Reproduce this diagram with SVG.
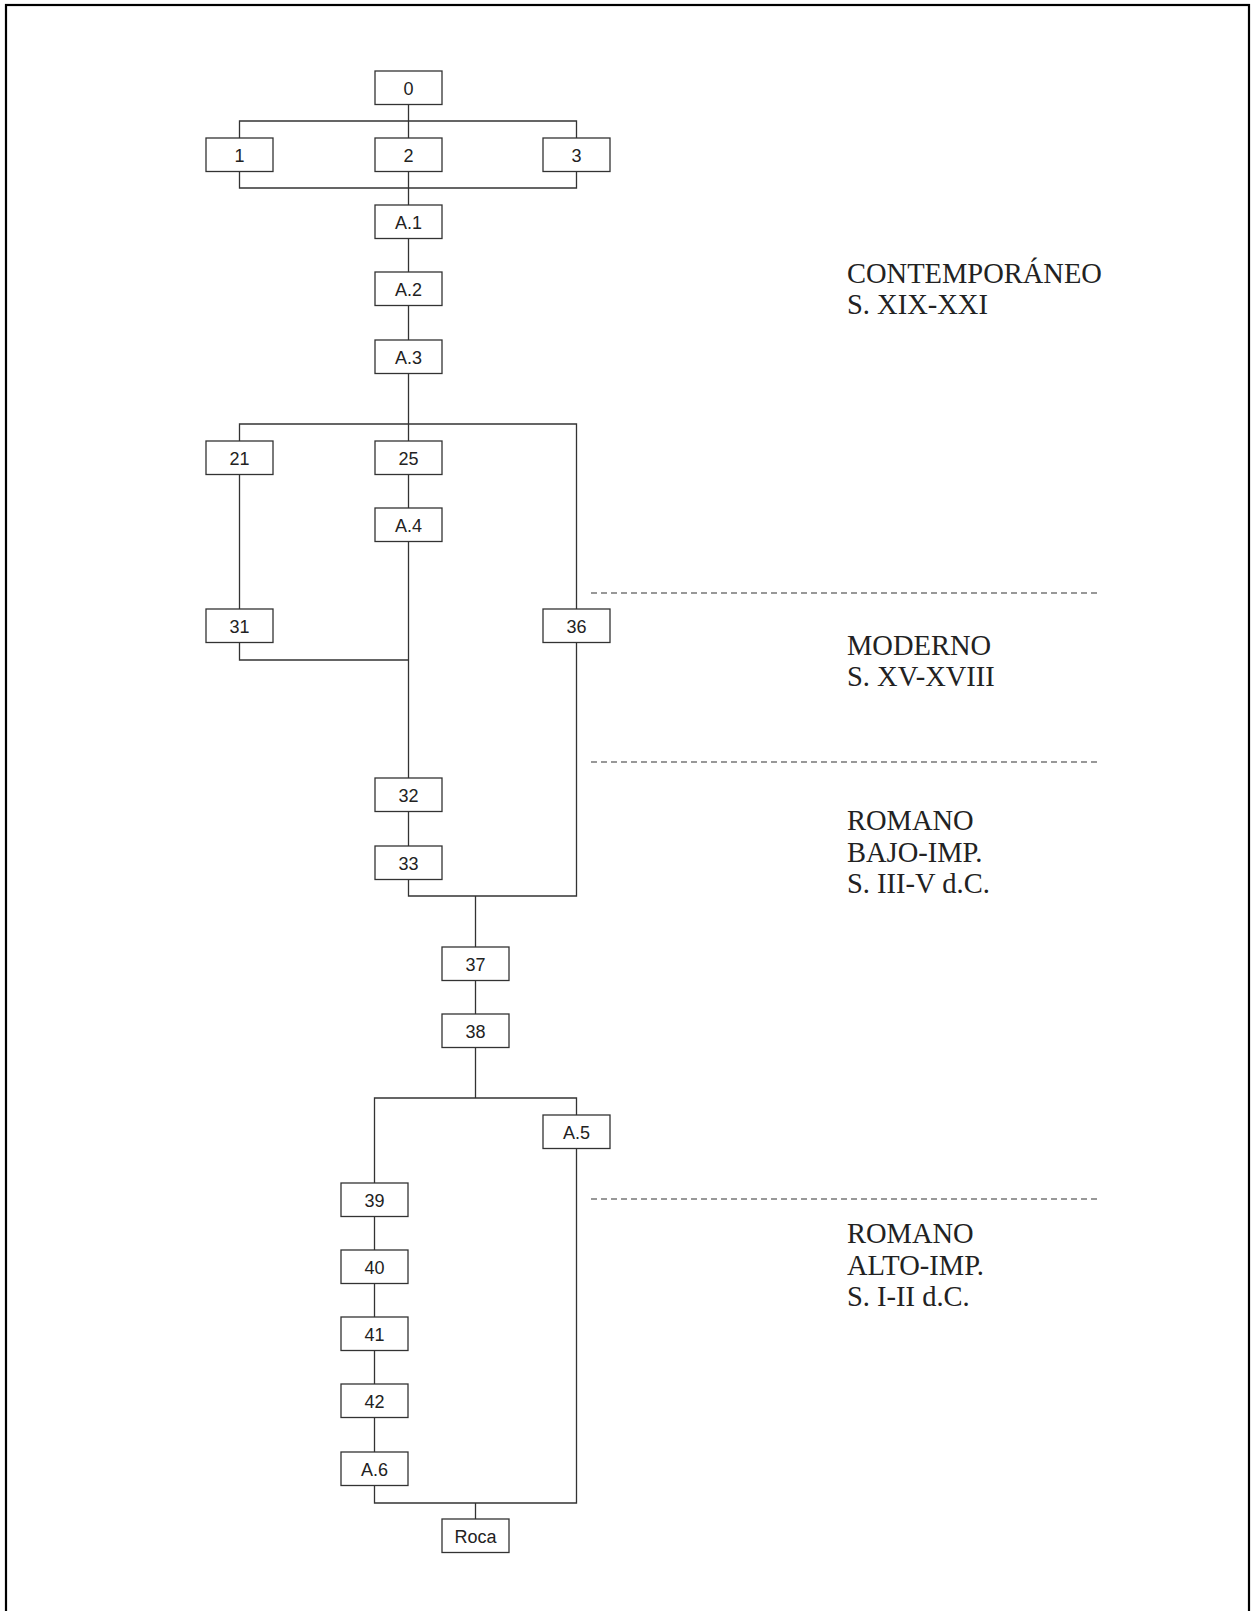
<svg xmlns="http://www.w3.org/2000/svg" width="1252" height="1611" viewBox="0 0 1252 1611">
<style>
.box rect{fill:#fff;stroke:#333;stroke-width:1.3}
.box text{font-family:"Liberation Sans",Arial,sans-serif;font-size:18px;fill:#222;text-anchor:middle}
.conn path{fill:none;stroke:#333;stroke-width:1.3}
.dash{stroke:#333;stroke-width:1.1;stroke-dasharray:6 4;fill:none}
.period{font-family:"Liberation Serif","Times New Roman",serif;font-size:28.5px;fill:#222}
</style>
<rect x="0" y="0" width="1252" height="1611" fill="#fff"/>
<rect x="6" y="5" width="1243" height="1700" fill="none" stroke="#000" stroke-width="2.2"/>

<g class="conn" id="connectors">
<path d="M408.5 104.5V138"/>
<path d="M239.5 138V121H576.5V138"/>
<path d="M239.5 171.5V188H576.5V171.5"/>
<path d="M408.5 171.5V205"/>
<path d="M408.5 238.5V272"/>
<path d="M408.5 305.5V340"/>
<path d="M408.5 373.5V441"/>
<path d="M239.5 441V424H576.5V609"/>
<path d="M239.5 474.5V609"/>
<path d="M408.5 474.5V508"/>
<path d="M408.5 541.5V778"/>
<path d="M239.5 642.5V660H408.5"/>
<path d="M408.5 811.5V846"/>
<path d="M408.5 879.5V896H576.5V642.5"/>
<path d="M475.5 896V947"/>
<path d="M475.5 980.5V1014"/>
<path d="M475.5 1047.5V1098"/>
<path d="M374.5 1183V1098H576.5V1115"/>
<path d="M576.5 1148.5V1503H374.5V1485.5"/>
<path d="M475.5 1503V1519"/>
<path d="M374.5 1216.5V1250"/>
<path d="M374.5 1283.5V1317"/>
<path d="M374.5 1350.5V1384"/>
<path d="M374.5 1417.5V1452"/>
</g>

<g id="node-0" class="box"><rect x="375" y="71" width="67" height="33.5"/><text x="408.5" y="94.5">0</text></g>
<g id="node-1" class="box"><rect x="206" y="138" width="67" height="33.5"/><text x="239.5" y="161.5">1</text></g>
<g id="node-2" class="box"><rect x="375" y="138" width="67" height="33.5"/><text x="408.5" y="161.5">2</text></g>
<g id="node-3" class="box"><rect x="543" y="138" width="67" height="33.5"/><text x="576.5" y="161.5">3</text></g>
<g id="node-A1" class="box"><rect x="375" y="205" width="67" height="33.5"/><text x="408.5" y="228.5">A.1</text></g>
<g id="node-A2" class="box"><rect x="375" y="272" width="67" height="33.5"/><text x="408.5" y="295.5">A.2</text></g>
<g id="node-A3" class="box"><rect x="375" y="340" width="67" height="33.5"/><text x="408.5" y="363.5">A.3</text></g>
<g id="node-21" class="box"><rect x="206" y="441" width="67" height="33.5"/><text x="239.5" y="464.5">21</text></g>
<g id="node-25" class="box"><rect x="375" y="441" width="67" height="33.5"/><text x="408.5" y="464.5">25</text></g>
<g id="node-A4" class="box"><rect x="375" y="508" width="67" height="33.5"/><text x="408.5" y="531.5">A.4</text></g>
<g id="node-31" class="box"><rect x="206" y="609" width="67" height="33.5"/><text x="239.5" y="632.5">31</text></g>
<g id="node-36" class="box"><rect x="543" y="609" width="67" height="33.5"/><text x="576.5" y="632.5">36</text></g>
<g id="node-32" class="box"><rect x="375" y="778" width="67" height="33.5"/><text x="408.5" y="801.5">32</text></g>
<g id="node-33" class="box"><rect x="375" y="846" width="67" height="33.5"/><text x="408.5" y="869.5">33</text></g>
<g id="node-37" class="box"><rect x="442" y="947" width="67" height="33.5"/><text x="475.5" y="970.5">37</text></g>
<g id="node-38" class="box"><rect x="442" y="1014" width="67" height="33.5"/><text x="475.5" y="1037.5">38</text></g>
<g id="node-A5" class="box"><rect x="543" y="1115" width="67" height="33.5"/><text x="576.5" y="1138.5">A.5</text></g>
<g id="node-39" class="box"><rect x="341" y="1183" width="67" height="33.5"/><text x="374.5" y="1206.5">39</text></g>
<g id="node-40" class="box"><rect x="341" y="1250" width="67" height="33.5"/><text x="374.5" y="1273.5">40</text></g>
<g id="node-41" class="box"><rect x="341" y="1317" width="67" height="33.5"/><text x="374.5" y="1340.5">41</text></g>
<g id="node-42" class="box"><rect x="341" y="1384" width="67" height="33.5"/><text x="374.5" y="1407.5">42</text></g>
<g id="node-A6" class="box"><rect x="341" y="1452" width="67" height="33.5"/><text x="374.5" y="1475.5">A.6</text></g>
<g id="node-Roca" class="box"><rect x="442" y="1519" width="67" height="33.5"/><text x="475.5" y="1542.5">Roca</text></g>

<g id="period-dividers">
<path class="dash" d="M591 593H1099"/>
<path class="dash" d="M591 762H1099"/>
<path class="dash" d="M591 1199H1099"/>
</g>

<g id="periods">
<text class="period" x="847" y="283">CONTEMPORÁNEO</text>
<text class="period" x="847" y="314">S. XIX-XXI</text>
<text class="period" x="847" y="655">MODERNO</text>
<text class="period" x="847" y="686">S. XV-XVIII</text>
<text class="period" x="847" y="830">ROMANO</text>
<text class="period" x="847" y="862">BAJO-IMP.</text>
<text class="period" x="847" y="893">S. III-V d.C.</text>
<text class="period" x="847" y="1243">ROMANO</text>
<text class="period" x="847" y="1275">ALTO-IMP.</text>
<text class="period" x="847" y="1306">S. I-II d.C.</text>
</g>
</svg>
